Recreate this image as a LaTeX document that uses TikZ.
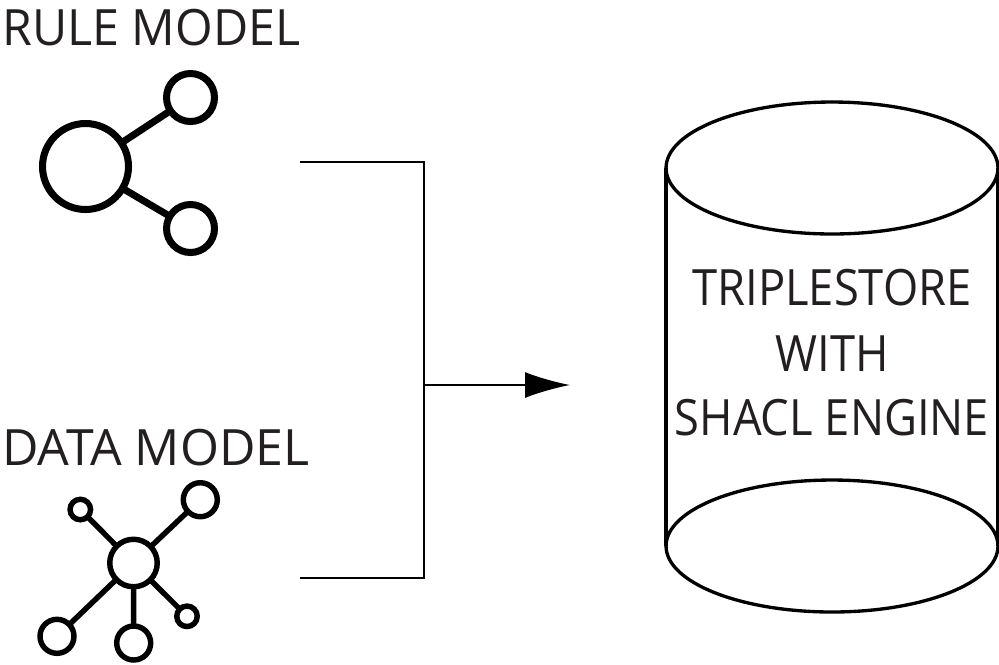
\documentclass[tikz,border=0pt]{standalone}
\usepackage{fontspec}
\setmainfont{Open Sans}
\newfontfamily\rulefont[FakeStretch=0.965]{Open Sans}
\newfontfamily\storefont[FakeStretch=0.905]{Open Sans}
\usetikzlibrary{arrows.meta,shapes.geometric}
\definecolor{inktext}{HTML}{231F20}
\tikzset{
  hub/.style={draw, circle, line width=3.1pt, inner sep=0pt, outer sep=0pt},
  bighub/.style={hub, line width=4pt},
  spoke/.style={line width=3.1pt},
  bigspoke/.style={line width=4pt},
  link/.style={line width=0.9pt},
  disc/.style={draw, ellipse, line width=1.9pt, minimum width=6.64cm, minimum height=2.64cm, inner sep=0pt, outer sep=0pt},
  caption/.style={anchor=base west, inner sep=0pt, text=inktext, font=\fontsize{28.5}{28.5}\selectfont},
  storetext/.style={inner sep=0pt, text=inktext, anchor=base, font=\storefont\fontsize{28.5}{28.5}\selectfont}
}
\begin{document}
\begin{tikzpicture}[x=0.02cm, y=-0.02cm]
\useasboundingbox (0,0) rectangle (999,664);
% rule model
\node (ruletitle) [caption, font=\rulefont\fontsize{28.5}{28.5}\selectfont] at (2,45) {RULE MODEL};
\node (rulehub) [bighub, minimum size=1.72cm] at (85.5,166.5) {};
\node (ruletop) [bighub, minimum size=0.96cm] at (190.5,97.5) {};
\node (rulebot) [bighub, minimum size=0.96cm] at (190.5,228.5) {};
\draw[bigspoke] (rulehub) -- (ruletop);
\draw[bigspoke] (rulehub) -- (rulebot);
% data model
\node (datatitle) [caption] at (2,465) {DATA MODEL};
\node (datahub) [hub, minimum size=0.95cm] at (133.5,563) {};
\node (dataa) [hub, minimum size=0.68cm] at (200.3,499.7) {};
\node (datab) [hub, minimum size=0.41cm] at (80.3,509.5) {};
\node (datac) [hub, minimum size=0.41cm] at (187,616.3) {};
\node (datad) [hub, minimum size=0.68cm] at (57,636.3) {};
\node (datae) [hub, minimum size=0.68cm] at (133.7,643) {};
\foreach \leaf in {dataa,datab,datac,datad,datae}
  \draw[spoke] (datahub) -- (\leaf);
% connectors
\coordinate (rulein) at (300,162);
\coordinate (datain) at (300,578);
\coordinate (bustop) at (424,162);
\coordinate (busbot) at (424,578);
\coordinate (busmid) at (424,385);
\coordinate (busout) at (570,385);
\draw[link] (rulein) -- (bustop) -- (busbot) -- (datain);
\draw[link, -{Latex[length=0.9cm, width=0.52cm]}] (busmid) -- (busout);
% triplestore
\node (storetop) [disc] at (832,168) {};
\node (storebot) [disc] at (832,546) {};
\draw[line width=1.9pt] (storetop.west) -- (storebot.west);
\draw[line width=1.9pt] (storetop.east) -- (storebot.east);
\node (store1) [storetext] at (832,305.5) {TRIPLESTORE};
\node (store2) [storetext] at (832,371) {WITH};
\node (store3) [storetext] at (832,435.5) {SHACL ENGINE};
\end{tikzpicture}
\end{document}
